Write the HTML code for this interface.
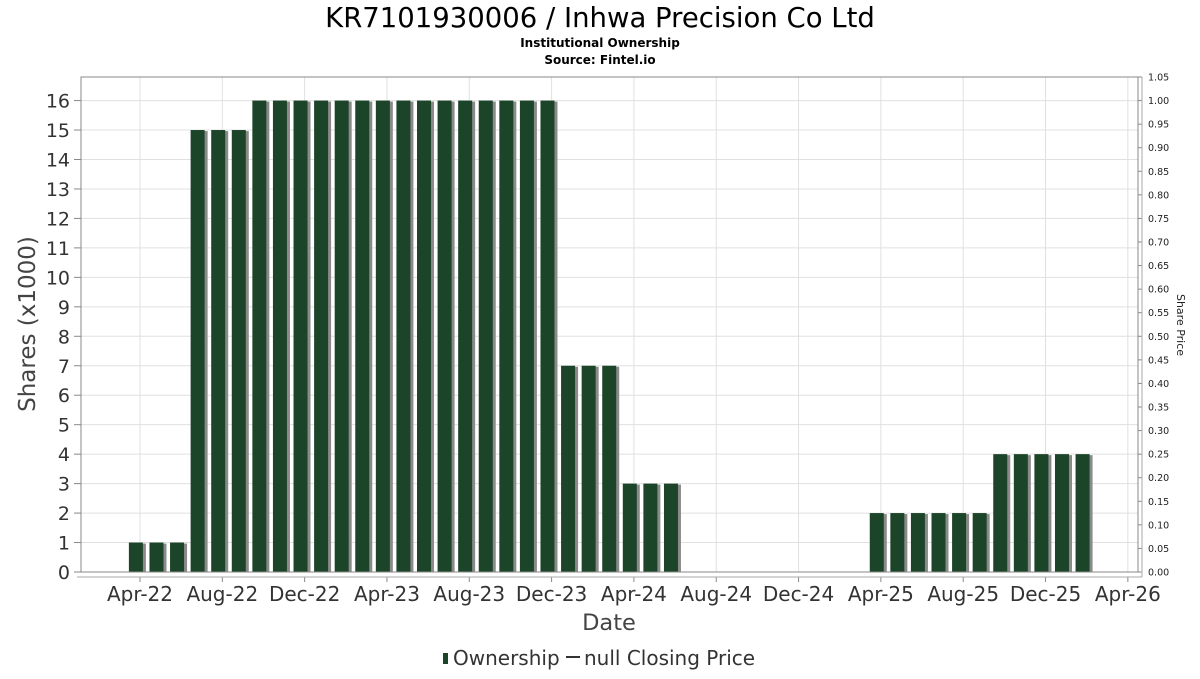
<!DOCTYPE html>
<html><head><meta charset="utf-8">
<style>
body{margin:0;background:#fff;font-family:"DejaVu Sans","Liberation Sans",sans-serif;}
svg text{font-family:"DejaVu Sans","Liberation Sans",sans-serif;}
</style></head>
<body>
<svg id="chart" width="1200" height="675" viewBox="0 0 1200 675">
<text x="600" y="27" font-size="27.5" text-anchor="middle" fill="#000">KR7101930006 / Inhwa Precision Co Ltd</text>
<text x="600" y="47" font-size="12" font-weight="bold" text-anchor="middle">Institutional Ownership</text>
<text x="600" y="64" font-size="12" font-weight="bold" text-anchor="middle">Source: Fintel.io</text>
<g id="grid"></g>
<g id="bars"></g>
<g id="axes"></g>
<text transform="translate(35,324) rotate(-90)" font-size="23" fill="#444" text-anchor="middle">Shares (x1000)</text>
<text transform="translate(1177,325) rotate(90)" font-size="11" fill="#222" text-anchor="middle">Share Price</text>
<text x="609" y="630" font-size="22.5" fill="#444" text-anchor="middle">Date</text>
<g>
<rect x="443" y="653" width="5" height="11" fill="#1c4428"></rect>
<text x="453" y="665" font-size="20" fill="#333">Ownership</text>
<line x1="566" y1="657" x2="580" y2="657" stroke="#333" stroke-width="2"></line>
<text x="584" y="665" font-size="20" fill="#333">null Closing Price</text>
</g>
</svg>
<script>
const values = [1,1,1,15,15,15,16,16,16,16,16,16,16,16,16,16,16,16,16,16,16,7,7,7,3,3,3,0,0,0,0,0,0,0,0,0,2,2,2,2,2,2,4,4,4,4,4];
const firstBarMonth = -0.2;
const xTickLabels = ["Apr-22","Aug-22","Dec-22","Apr-23","Aug-23","Dec-23","Apr-24","Aug-24","Dec-24","Apr-25","Aug-25","Dec-25","Apr-26"];
const yTicks = [0,1,2,3,4,5,6,7,8,9,10,11,12,13,14,15,16];
const y2Ticks = ["0.00","0.05","0.10","0.15","0.20","0.25","0.30","0.35","0.40","0.45","0.50","0.55","0.60","0.65","0.70","0.75","0.80","0.85","0.90","0.95","1.00","1.05"];

const NS="http://www.w3.org/2000/svg";
const L=81,R=1138,T=77,B=572;
const yMax=16.8;
const y=v=>B-(v/yMax)*(B-T);
const x=m=>140+m*20.58;
const y2=p=>B-(p/1.05)*(B-T);
function mk(tag,attrs,parent){const e=document.createElementNS(NS,tag);for(const k in attrs)e.setAttribute(k,attrs[k]);parent.appendChild(e);return e;}
const grid=document.getElementById('grid'),bars=document.getElementById('bars'),axes=document.getElementById('axes');
mk('rect',{x:L,y:T,width:R-L,height:B-T,fill:'#fff'},grid);
yTicks.forEach(v=>{
  const l=mk('line',{x1:L,x2:R,y1:y(v),y2:y(v),stroke:'#e0e0e0'},grid);
  
  
  const t=mk('text',{x:70,y:y(v)+7,'font-size':19,'text-anchor':'end',fill:'#333'},axes);
  t.textContent=v;
  
  
  mk('line',{x1:74,x2:L,y1:y(v),y2:y(v),stroke:'#888'},axes);
});
xTickLabels.forEach((s,i)=>{
  const xx=x(i*4);
  const l=mk('line',{x1:xx,x2:xx,y1:T,y2:B,stroke:'#e0e0e0'},grid);
  
  
  mk('line',{x1:xx,x2:xx,y1:577,y2:582,stroke:'#888'},axes);
  const t=mk('text',{x:xx,y:601,'font-size':20,'text-anchor':'middle',fill:'#333'},axes);
  t.textContent=s;
  
  
});
y2Ticks.forEach(s=>{
  const yy=y2(parseFloat(s));
  mk('line',{x1:R,x2:R+4,y1:yy,y2:yy,stroke:'#888'},axes);
  const t=mk('text',{x:1148,y:yy+3.5,'font-size':9.5,fill:'#222'},axes);
  t.textContent=s;
  
  
});
values.forEach((v,i)=>{
  if(v<=0)return;
  const cx=x(firstBarMonth+i);
  const sh=mk('rect',{x:cx-7+3,y:y(v)+1,width:14,height:B-y(v)-1,fill:'#8a8a8a'},bars);
  
  
  const r=mk('rect',{x:cx-7,y:y(v),width:14,height:B-y(v),fill:'#1c4428'},bars);
  
  
});
mk('rect',{x:L,y:T,width:R-L,height:B-T,fill:'none',stroke:'#888'},axes);
mk('line',{x1:77,x2:1142,y1:577,y2:577,stroke:'#aaa'},axes);
mk('line',{x1:1142,x2:1142,y1:T,y2:577,stroke:'#aaa'},axes);
</script>
</body></html>
